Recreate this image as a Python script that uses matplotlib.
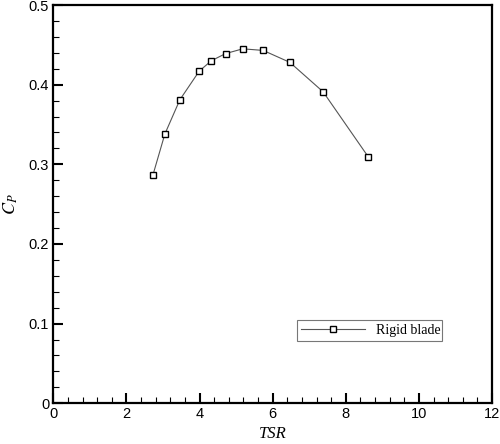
import matplotlib.pyplot as plt
from matplotlib.ticker import MultipleLocator

# values
tsr = [2.72, 3.05, 3.46, 3.99, 4.32, 4.71, 5.18, 5.74, 6.47, 7.38, 8.62]
cp = [0.286, 0.338, 0.381, 0.417, 0.430, 0.439, 0.445, 0.443, 0.428, 0.391, 0.309]
x_ticks = [0, 2, 4, 6, 8, 10, 12]
y_ticks = [0, 0.1, 0.2, 0.3, 0.4, 0.5]
y_tick_labels = ["0", "0.1", "0.2", "0.3", "0.4", "0.5"]
series_label = "Rigid blade"

plt.rcParams["mathtext.fontset"] = "stix"

fig = plt.figure(figsize=(5, 4.44), dpi=100)
ax = fig.add_axes([0.1067, 0.0917, 0.8774, 0.897])

ax.plot(tsr, cp, color="#555555", linewidth=0.8, marker="s", markersize=5,
        markerfacecolor="white", markeredgecolor="black", markeredgewidth=1.0,
        label=series_label)

ax.set_xlim(0, 12)
ax.set_ylim(0, 0.5)
ax.set_xticks(x_ticks)
ax.set_yticks(y_ticks)
ax.set_yticklabels(y_tick_labels)
ax.xaxis.set_minor_locator(MultipleLocator(0.4))
ax.yaxis.set_minor_locator(MultipleLocator(0.02))
ax.tick_params(which="major", direction="in", length=7, width=1.5,
               top=False, right=False, labelsize=10.5, pad=3)
ax.tick_params(which="minor", direction="in", length=4, width=0.8,
               top=False, right=False)
for lbl in ax.get_xticklabels() + ax.get_yticklabels():
    lbl.set_family("Liberation Sans")
for s in ax.spines.values():
    s.set_linewidth(1.6)

ax.set_xlabel("TSR", family="Liberation Serif", style="italic", fontsize=12,
              va="center")
ax.xaxis.set_label_coords(0.5, -0.078)
ax.set_ylabel("$C_P$", fontsize=13, va="center")
ax.yaxis.set_label_coords(-0.098, 0.5)

leg = ax.legend(loc="lower left", bbox_to_anchor=(6.67 / 12, 0.078 / 0.5, 3.96 / 12, 0.027 / 0.5),
                mode="expand", prop={"family": "Liberation Serif", "size": 10},
                frameon=True, fancybox=False, handlelength=4.6, borderpad=0.3,
                borderaxespad=0, handletextpad=0.8)
leg.get_frame().set_edgecolor("#555555")
leg.get_frame().set_linewidth(0.8)

fig.savefig("out.png", dpi=100)
